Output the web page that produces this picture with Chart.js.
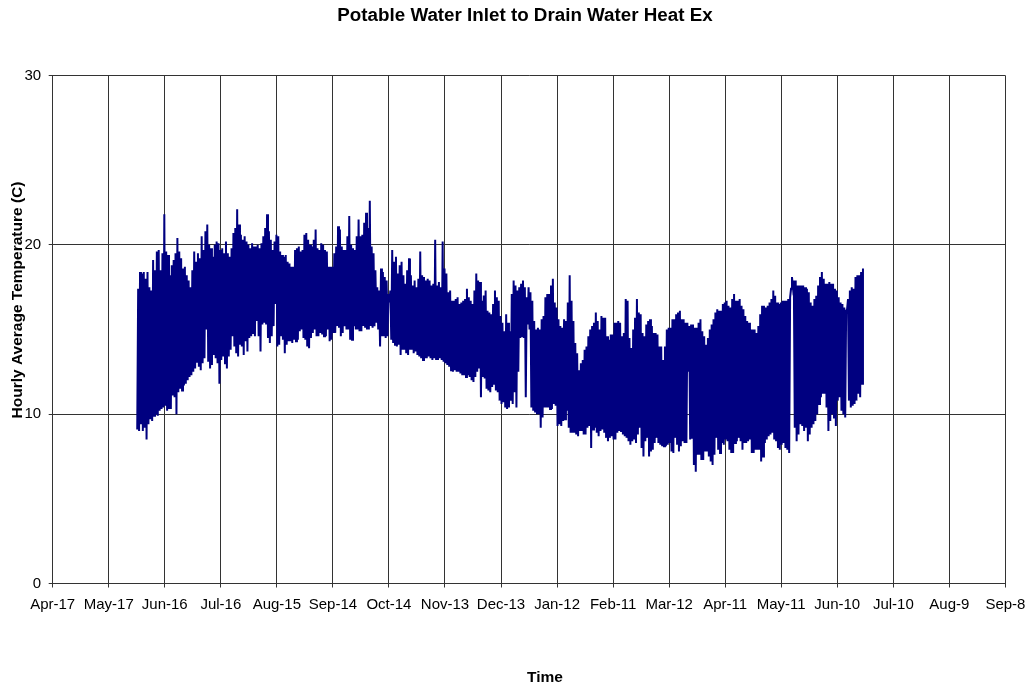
<!DOCTYPE html>
<html>
<head>
<meta charset="utf-8">
<script src="https://cdn.jsdelivr.net/npm/chart.js@4.4.1/dist/chart.umd.min.js"></script>
<style>
  html, body { margin: 0; padding: 0; background: #ffffff; }
  #c { display: block; }
</style>
</head>
<body>
<canvas id="c" width="1031" height="687"></canvas>
<script>
// ---- Text ----
const chartTitle = "Potable Water Inlet to Drain Water Heat Ex";
const xTitle = "Time";
const yTitle = "Hourly Average Temperature (C)";

// ---- X axis: tick labels every 30 days, starting at Apr-17 (day 0) ----
const tickLabels = ["Apr-17","May-17","Jun-16","Jul-16","Aug-15","Sep-14","Oct-14","Nov-13","Dec-13",
                    "Jan-12","Feb-11","Mar-12","Apr-11","May-11","Jun-10","Jul-10","Aug-9","Sep-8"];
const tickStepDays = 30;

// ---- Series: daily low / high of the hourly readings, first day = day 45 (about Jun-1) ----
const firstDay = 45;
const dailyHigh = [
  17.4,18.4,18.3,18.4,18.0,18.4,17.5,17.3,19.1,18.5,
  19.6,19.7,18.5,19.5,21.8,19.6,19.4,18.2,18.8,19.1,
  19.5,20.4,19.6,19.2,18.6,18.7,18.2,17.9,17.5,18.5,
  19.6,19.0,19.5,19.2,20.5,19.7,20.8,21.2,20.0,19.8,
  19.3,20.0,20.2,20.1,19.7,19.8,19.5,20.2,19.5,19.3,
  19.8,20.7,21.0,22.1,21.2,20.6,20.3,20.5,20.2,20.0,
  19.8,20.1,19.9,
  19.9,20.0,19.8,20.1,20.5,21.0,21.8,20.8,20.3,19.7,
  20.2,20.6,20.5,19.6,19.4,19.3,19.4,19.0,18.9,18.7,
  18.7,19.7,19.8,19.9,19.6,19.7,20.6,20.7,20.3,20.0,
  19.9,20.3,20.9,19.8,19.7,20.1,20.0,19.7,19.6,18.7,
  18.7,18.7,19.5,19.9,21.1,20.9,19.9,19.7,19.7,20.5,
  21.7,20.0,19.8,19.7,20.5,21.5,20.5,20.6,21.3,21.9,
  21.0,22.6,19.9,19.5,18.5,17.5,
  17.3,18.6,18.4,18.1,17.9,17.1,17.3,19.7,19.0,19.3,
  18.3,18.8,19.0,18.2,17.7,18.5,19.2,18.2,17.6,17.9,
  17.5,18.0,19.6,18.2,18.1,17.9,18.0,17.9,17.6,17.7,
  20.3,17.6,17.8,17.5,20.2,18.6,18.3,17.2,17.3,16.7,
  16.7,16.8,16.9,16.5,16.6,16.7,16.8,17.4,16.9,16.7,
  16.5,17.3,18.3,17.9,17.8,16.7,17.0,17.3,16.1,16.0,
  15.9,16.5,17.3,16.9,16.7,15.8,15.4,
  14.9,15.9,15.4,14.9,17.1,17.9,17.6,17.3,17.5,17.7,
  17.9,17.5,16.9,17.5,17.2,16.7,15.5,15.0,15.1,15.0,
  15.6,15.8,16.9,17.1,17.1,17.6,18.0,16.6,16.3,15.6,
  15.2,15.1,15.6,15.5,16.6,18.2,16.7,15.5,14.2,13.6,
  12.6,13.0,13.2,13.8,14.0,14.6,15.0,15.2,15.4,16.0,
  15.5,15.0,15.8,15.7,15.7,14.6,14.4,14.7,14.7,15.4,
  15.4,15.5,15.4,14.6,14.8,16.8,
  16.7,14.5,13.9,15.0,15.7,16.8,16.0,15.9,14.8,14.6,
  15.3,15.5,15.6,15.2,14.8,14.8,14.7,14.0,14.0,13.2,
  14.0,15.0,15.1,15.1,15.6,15.6,15.9,16.0,16.1,15.6,
  15.6,15.4,15.4,15.2,15.3,15.3,15.1,15.1,15.4,15.6,
  14.9,14.6,14.1,14.5,15.0,15.3,15.6,16.0,16.2,16.1,
  16.1,16.5,16.6,16.7,16.4,16.3,16.8,17.1,16.7,16.7,
  16.8,16.4,16.2,15.8,15.5,15.4,
  15.0,15.0,15.0,14.8,15.2,15.9,16.4,16.4,16.3,16.4,
  16.6,16.8,17.3,17.0,16.6,16.5,16.6,16.7,16.7,16.7,
  16.8,16.9,18.1,17.9,17.9,17.6,17.6,17.6,17.6,17.5,
  17.4,17.2,16.6,16.4,16.8,17.0,17.6,18.1,18.4,18.0,
  17.7,17.7,17.8,17.7,17.7,17.4,17.3,16.9,16.6,16.5,
  16.3,16.1,16.8,17.3,17.5,17.4,18.1,18.2,18.2,18.4,
  18.6
];
const dailyLow = [
  9.1,9.0,9.4,9.0,9.2,8.5,9.4,9.7,9.6,9.9,
  10.0,9.9,10.2,10.3,10.4,10.5,10.2,10.3,10.3,11.1,
  11.0,10.0,11.3,11.5,11.4,11.7,11.8,12.0,12.2,12.3,
  12.5,12.7,13.1,12.8,12.6,13.0,13.3,15.0,13.1,12.7,
  12.9,13.5,13.3,13.0,11.8,13.2,13.4,13.0,12.7,13.4,
  13.8,14.6,14.0,13.6,13.4,14.1,14.0,13.5,14.3,13.7,
  14.5,14.6,14.8,
  14.6,15.5,14.6,13.7,15.3,15.4,15.3,14.5,14.2,14.6,
  15.2,16.5,14.0,14.1,14.6,14.4,13.6,14.1,14.3,14.3,
  14.2,14.4,14.3,14.4,14.9,15.0,14.5,14.4,14.0,13.9,
  14.5,14.8,15.0,14.6,14.6,14.8,14.7,14.6,14.6,15.0,
  14.3,14.4,14.8,14.8,15.2,15.1,14.6,14.8,15.2,15.0,
  15.0,14.4,14.4,15.2,15.0,15.0,14.9,14.9,15.2,15.1,
  15.0,15.0,15.2,15.1,15.2,15.4,
  15.0,14.0,14.6,14.6,14.5,14.6,16.6,14.4,14.2,14.1,
  14.0,14.1,13.5,13.8,13.8,13.6,13.5,13.8,13.8,13.6,
  13.7,13.5,13.4,13.3,13.2,13.3,13.3,13.4,13.3,13.2,
  13.3,13.2,13.2,13.3,13.2,13.1,13.0,12.9,12.8,12.6,
  12.5,12.6,12.5,12.5,12.4,12.3,12.3,12.2,12.3,12.2,
  12.0,11.9,12.2,12.5,12.7,11.0,12.2,12.1,11.5,11.4,
  11.3,11.6,11.8,11.4,11.3,10.8,10.6,
  10.7,10.4,10.3,10.4,10.8,10.6,11.3,10.4,12.5,14.5,
  14.6,14.5,11.0,15.3,15.0,10.4,10.2,10.1,10.0,10.0,
  9.2,9.8,10.4,10.4,10.4,10.3,10.3,10.6,10.5,9.3,
  9.4,9.3,9.6,9.7,10.2,9.2,8.9,8.9,8.9,8.8,
  8.7,9.0,9.0,8.8,8.8,9.2,9.3,8.0,9.1,9.2,
  8.9,8.7,9.0,9.1,8.9,8.6,8.4,8.6,8.7,8.5,
  8.5,8.9,9.0,9.0,8.8,8.7,
  8.6,8.4,8.2,8.4,8.5,8.3,8.8,9.2,8.0,7.5,
  8.4,8.6,7.5,7.8,7.9,8.3,8.6,8.3,8.2,8.1,
  8.1,8.1,8.2,8.3,7.8,7.7,8.6,8.2,7.8,8.1,
  8.4,8.3,8.3,12.5,8.5,8.6,7.0,6.6,7.6,7.6,
  7.3,7.3,7.8,7.8,7.5,7.2,7.0,7.6,8.6,7.9,
  7.7,8.3,8.2,8.5,8.4,7.9,7.7,7.7,8.3,8.4,
  8.6,8.4,7.9,8.3,8.3,8.4,
  8.5,7.7,7.7,7.9,7.9,7.9,7.2,7.5,8.3,8.5,
  8.7,8.8,8.9,8.5,8.4,8.0,7.9,8.2,8.3,8.0,
  7.9,7.7,17.4,17.5,9.2,8.4,8.8,9.4,9.3,9.0,
  9.2,8.4,8.8,9.2,9.4,9.6,10.0,10.6,11.0,11.2,
  11.2,10.4,9.0,9.6,10.0,9.8,9.3,10.8,11.0,10.2,
  10.0,9.8,16.2,10.8,10.4,10.5,10.6,10.8,11.2,11.0,
  11.8
];

// ---- Y axis ----
const yMin = 0, yMax = 30, yStep = 10;

// Build the trace (low then high within each day)
const points = [];
for (let i = 0; i < dailyHigh.length; i++) {
  const d = firstDay + i;
  points.push({ x: d + 0.25, y: dailyLow[i] });
  points.push({ x: d + 0.75, y: dailyHigh[i] });
}

const FONT = '"Liberation Sans", Arial, Helvetica, sans-serif';
const gridColor = '#333333';

const titlesPlugin = {
  id: 'customTitles',
  afterDraw(chart) {
    const ctx = chart.ctx;
    ctx.save();
    ctx.fillStyle = '#000000';
    ctx.textAlign = 'center';
    ctx.textBaseline = 'alphabetic';
    ctx.font = 'bold 18.8px ' + FONT;
    ctx.fillText(chartTitle, 525, 20.5);
    ctx.font = 'bold 15.5px ' + FONT;
    ctx.fillText(xTitle, 545, 681.5);
    ctx.translate(22, 300);
    ctx.rotate(-Math.PI / 2);
    ctx.fillText(yTitle, 0, 0);
    ctx.restore();
  }
};

new Chart(document.getElementById('c'), {
  type: 'line',
  data: {
    datasets: [{
      data: points,
      borderColor: '#000080',
      backgroundColor: '#000080',
      borderWidth: 2,
      pointRadius: 0,
      tension: 0,
      fill: false
    }]
  },
  options: {
    responsive: false,
    animation: false,
    events: [],
    layout: { padding: { top: 75.5, right: 25.6, bottom: 0, left: 0 } },
    plugins: {
      legend: { display: false },
      title: { display: false },
      tooltip: { enabled: false }
    },
    scales: {
      x: {
        type: 'linear',
        min: 0,
        max: tickStepDays * (tickLabels.length - 1),
        afterFit(s) { s.height = 103.5; s.paddingLeft = 0; s.paddingRight = 0; },
        grid: { color: gridColor, lineWidth: 1, tickLength: 4, drawTicks: true },
        border: { display: true, color: gridColor, width: 1 },
        ticks: {
          stepSize: tickStepDays,
          autoSkip: false,
          maxRotation: 0,
          minRotation: 0,
          padding: 8,
          color: '#000000',
          font: { family: FONT, size: 15 },
          callback: (v) => tickLabels[Math.round(v / tickStepDays)]
        }
      },
      y: {
        type: 'linear',
        min: yMin,
        max: yMax,
        afterFit(s) { s.width = 52.7; s.paddingTop = 0; s.paddingBottom = 0; },
        grid: { color: gridColor, lineWidth: 1, tickLength: 4, drawTicks: true },
        border: { display: true, color: gridColor, width: 1 },
        ticks: {
          stepSize: yStep,
          padding: 7.5,
          color: '#000000',
          font: { family: FONT, size: 15 }
        }
      }
    }
  },
  plugins: [titlesPlugin]
});
</script>
</body>
</html>
